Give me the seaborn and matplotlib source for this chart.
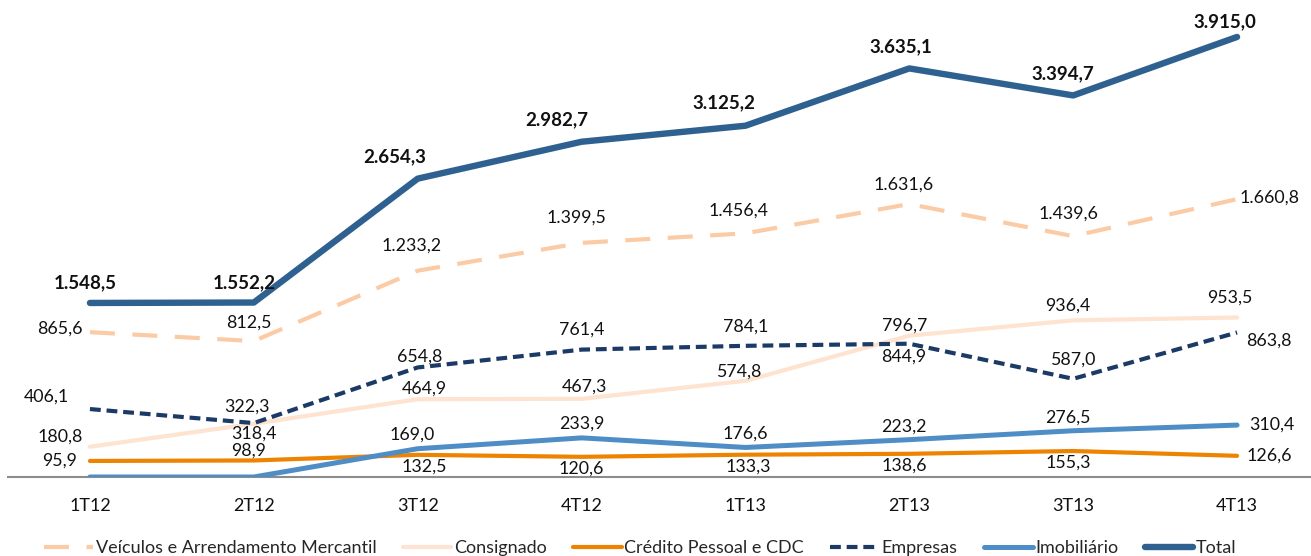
import numpy as np
import pandas as pd
import matplotlib
matplotlib.use("Agg")
import matplotlib.pyplot as plt
import seaborn as sns

# data
quarters = ["1T12", "2T12", "3T12", "4T12", "1T13", "2T13", "3T13", "4T13"]
veiculos = [865.6, 812.5, 1233.2, 1399.5, 1456.4, 1631.6, 1439.6, 1660.8]
consignado = [180.8, 318.4, 464.9, 467.3, 574.8, 844.9, 936.4, 953.5]
credito = [95.9, 98.9, 132.5, 120.6, 133.3, 138.6, 155.3, 126.6]
empresas = [406.1, 322.3, 654.8, 761.4, 784.1, 796.7, 587.0, 863.8]
imobiliario = [0.0, 0.0, 169.0, 233.9, 176.6, 223.2, 276.5, 310.4]
total = [1548.5, 1552.2, 2654.3, 2982.7, 3125.2, 3635.1, 3394.7, 3915.0]

sns.set_style("white")
plt.rcParams["font.family"] = ["Lato", "DejaVu Sans"]

def fmt(v):
    s = f"{v:,.1f}"
    return s.replace(",", "X").replace(".", ",").replace("X", ".")

fig = plt.figure(figsize=(13.11, 5.56), dpi=100)
ax = fig.add_axes([8 / 1311, 79 / 556, 1311 / 1311, 477 / 556])
ax2 = ax.twinx()
x = np.arange(len(quarters))

# label offsets in pixels (dx, dy up)
series = [
    ("Veículos e Arrendamento Mercantil", veiculos, ax2, "#FBCBA6", 3.0, (0, (6.0, 4.2)),
     [(-30, 4), (-5, 18), (-6, 25), (-5, 25), (-7, 23), (-6, 19), (-5, 23), (32, 2)], "normal"),
    ("Consignado", consignado, ax2, "#FDE3D0", 3.0, "-",
     [(-30, 10), (0, -10), (7, 11), (3, 12), (-7, 9), (-6, -21), (-5, 15), (-7, 20)], "normal"),
    ("Crédito Pessoal e CDC", credito, ax2, "#EE8302", 3.0, "-",
     [(-30, 0), (-5, 10), (7, -12), (0, -12), (3, -12), (-5, -12), (-5, -12), (32, 0)], "normal"),
    ("Empresas", empresas, ax2, "#1C3A66", 3.0, (0, (2.6, 1.4)),
     [(-44, 12), (-7, 16), (2, 11), (0, 20), (0, 19), (-5, 18), (0, 19), (32, -8)], "normal"),
    ("Imobiliário", imobiliario, ax2, "#4F8DC6", 3.6, "-",
     [None, None, (-6, 14), (0, 14), (0, 14), (-5, 13), (-5, 13), (35, 0)], "normal"),
    ("Total", total, ax, "#2E6090", 4.6, "-",
     [(-5, 20), (-10, 20), (-23, 22), (-25, 22), (-22, 23), (-8, 22), (-10, 22), (-12, 15)], "bold"),
]

handles = []
for name, vals, a, col, lw, ls, offs, weight in series:
    sns.lineplot(x=x, y=vals, ax=a, color=col, linewidth=lw, linestyle=ls,
                 label=name, legend=False, solid_capstyle="round", dash_capstyle="butt")
    handles.append(a.lines[-1])
    for xi, v, off in zip(x, vals, offs):
        if off is None or v == 0:
            continue
        a.annotate(fmt(v), (xi, v), xytext=(off[0] * 0.72, off[1] * 0.72),
                   textcoords="offset points", ha="center", va="center",
                   fontsize=13.5 if weight == "bold" else 12.8,
                   fontweight=weight, color="#111111")

ax.set_xlim(-0.5, 7.5)
ax.set_ylim(0, 477 / 0.1124)
ax2.set_ylim(0, 477 / 0.1673)
for a in (ax, ax2):
    a.set_yticks([])
    a.set_ylabel("")
    for s in ["top", "right", "left"]:
        a.spines[s].set_visible(False)
ax2.spines["bottom"].set_visible(False)
ax.spines["bottom"].set_color("#8c8c8c")
ax.spines["bottom"].set_linewidth(1.5)

ax.set_xticks(x)
ax.set_xticklabels(quarters, fontsize=13, color="#111111")
ax.set_xticks(np.arange(-0.5, 8.0, 1.0), minor=True)
ax.tick_params(axis="x", which="major", length=0, pad=15)
ax.tick_params(axis="x", which="minor", length=7, color="#8c8c8c", width=1.2, direction="out")
ax.set_xlabel("")

fig.legend(handles=handles, labels=[s[0] for s in series], loc="lower left",
           bbox_to_anchor=(28 / 1311, -0.03), ncol=6, frameon=False, fontsize=13,
           handlelength=2.7, columnspacing=1.45, handletextpad=0.15)

fig.savefig("out.png", dpi=100)
